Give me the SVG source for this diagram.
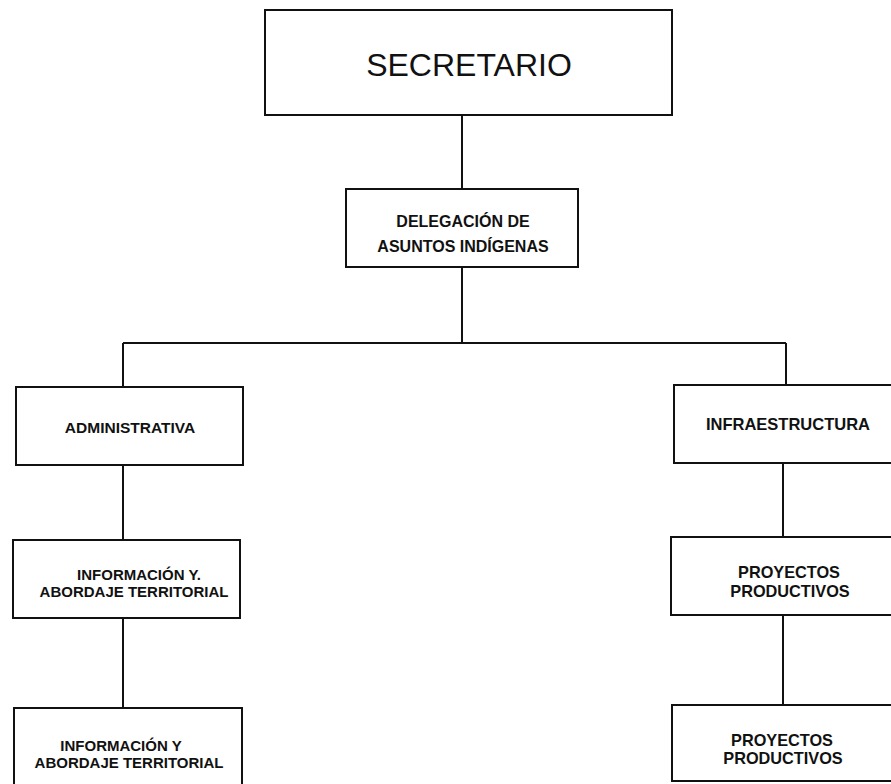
<svg xmlns="http://www.w3.org/2000/svg" width="891" height="784" viewBox="0 0 891 784">
<style>
.box{fill:#fff;stroke:#111;stroke-width:2}
.t{font-family:"Liberation Sans",Arial,sans-serif;font-weight:bold;fill:#111;text-anchor:middle}
.big{font-family:"Liberation Sans",Arial,sans-serif;fill:#111;text-anchor:middle;font-size:32px}
.c{stroke:#111;stroke-width:2;fill:none}
</style>
<rect width="891" height="784" fill="#fff"/>
<g id="connectors">
<line class="c" x1="462" y1="115" x2="462" y2="189"/>
<line class="c" x1="462" y1="267" x2="462" y2="343"/>
<line class="c" x1="123" y1="343" x2="786" y2="343"/>
<line class="c" x1="123" y1="343" x2="123" y2="387"/>
<line class="c" x1="786" y1="343" x2="786" y2="385"/>
<line class="c" x1="123" y1="465" x2="123" y2="540"/>
<line class="c" x1="123" y1="618" x2="123" y2="708"/>
<line class="c" x1="783" y1="463" x2="783" y2="537"/>
<line class="c" x1="783" y1="615" x2="783" y2="705"/>
</g>
<g id="secretario">
<rect class="box" x="265" y="10" width="407" height="105"/>
<text class="big" x="469" y="76">SECRETARIO</text>
</g>
<g id="delegacion">
<rect class="box" x="346" y="189" width="232" height="78"/>
<text class="t" x="463" y="227" font-size="16">DELEGACIÓN DE</text>
<text class="t" x="463" y="252" font-size="16">ASUNTOS INDÍGENAS</text>
</g>
<g id="administrativa">
<rect class="box" x="16" y="387" width="227" height="78"/>
<text class="t" x="130" y="433" font-size="15.5">ADMINISTRATIVA</text>
</g>
<g id="informacion1">
<rect class="box" x="13" y="540" width="227" height="78"/>
<text class="t" x="139" y="580" font-size="15">INFORMACIÓN Y.</text>
<text class="t" x="134" y="597" font-size="15">ABORDAJE TERRITORIAL</text>
</g>
<g id="informacion2">
<rect class="box" x="14" y="708" width="228" height="90"/>
<text class="t" x="121" y="751" font-size="15">INFORMACIÓN Y</text>
<text class="t" x="129" y="768" font-size="15">ABORDAJE TERRITORIAL</text>
</g>
<g id="infraestructura">
<rect class="box" x="674" y="385" width="240" height="78"/>
<text class="t" x="788" y="430" font-size="16.5">INFRAESTRUCTURA</text>
</g>
<g id="proyectos1">
<rect class="box" x="671" y="537" width="240" height="78"/>
<text class="t" x="789" y="578" font-size="16.3">PROYECTOS</text>
<text class="t" x="790" y="597" font-size="16.3">PRODUCTIVOS</text>
</g>
<g id="proyectos2">
<rect class="box" x="672" y="705" width="240" height="76"/>
<text class="t" x="782" y="746" font-size="16.3">PROYECTOS</text>
<text class="t" x="783" y="764" font-size="16.3">PRODUCTIVOS</text>
</g>
</svg>
